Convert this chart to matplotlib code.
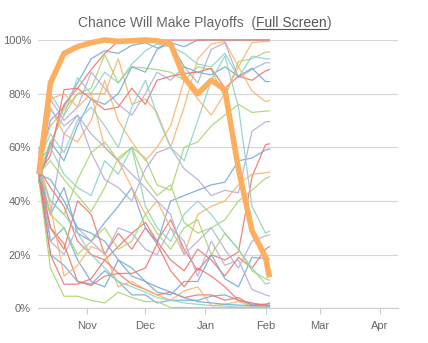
import matplotlib
matplotlib.use("Agg")
import matplotlib.pyplot as plt
import matplotlib.dates as mdates
from matplotlib.lines import Line2D
from datetime import datetime

plt.rcParams['font.family'] = ['Liberation Sans', 'DejaVu Sans']

# weekly snapshot dates
dates = ["2013-10-07", "2013-10-13", "2013-10-20", "2013-10-27", "2013-11-03",
         "2013-11-10", "2013-11-17", "2013-11-24", "2013-12-01", "2013-12-07",
         "2013-12-14", "2013-12-21", "2013-12-28", "2014-01-04", "2014-01-11",
         "2014-01-18", "2014-01-25", "2014-02-01", "2014-02-03"]

# highlighted team (%)
highlight = [50, 84, 95, 97.5, 99, 100, 99.5, 99.7, 100, 99.7, 98.5, 86, 80, 85,
             81.5, 52, 29, 19, 11.5]

# the rest of the league (%)
others = [
    [52, 70, 75, 84, 93, 96, 95, 98, 99, 97, 99, 97.5, 100, 100, 100, 100, 100, 100, 100],
    [48, 60, 76, 82, 89, 95, 99.5, 100, 100, 100, 100, 100, 100, 100, 100, 100, 100, 100, 100],
    [55, 68, 74, 80, 80, 80, 93, 76, 78, 73, 60, 75, 93, 98.5, 99.5, 90, 99, 99.5, 99.5],
    [50, 62, 72, 80, 82, 94.5, 84, 90, 89.5, 89, 88, 85, 90, 89, 78.5, 92, 93, 95.5, 95.5],
    [55, 80, 72, 86, 80, 88, 84, 91, 96, 98.5, 97.5, 95, 91, 90, 95, 86, 94, 93, 93],
    [52, 78, 70, 75, 88, 82, 76, 72, 80, 88, 85, 90, 84, 96.5, 99, 86, 89, 91.5, 91.5],
    [50, 57, 81.5, 82, 78, 74, 75, 82, 76, 85, 86.5, 87.5, 88, 89.5, 82, 86.5, 85, 88.5, 89],
    [47, 62, 55, 68, 78, 76, 80, 90, 88, 96.5, 99, 90, 88, 87, 90, 86.5, 89.5, 84.5, 84.5],
    [58, 75, 65, 62, 70, 85, 70, 62, 55, 60, 68, 85, 78, 72, 80, 90, 81, 77, 77.5],
    [53, 40, 35, 48, 58, 62, 55, 60, 56, 46, 44, 60, 62, 68, 72, 76, 73, 73.5, 73.6],
    [50, 74, 68, 72, 58, 48, 45, 40, 52, 58, 60, 52, 48, 42, 44, 43, 66, 69.5, 69.6],
    [48, 30, 22, 40, 35, 20, 28, 22, 30, 25, 33, 22, 14, 20, 18, 21, 49, 61, 61.3],
    [52, 35, 45, 28, 25, 32, 38, 45, 30, 24, 40, 42, 44, 46, 47, 55, 56, 59, 59.4],
    [55, 78, 80, 75, 80, 60, 55, 45, 35, 40, 30, 20, 35, 38, 40, 46, 50, 50.5, 50.8],
    [50, 55, 48, 42, 36, 45, 56, 60, 48, 42, 46, 32, 28, 30, 33, 40, 44, 48.5, 49],
    [55, 65, 58, 70, 75, 68, 60, 75, 85, 72, 60, 55, 70, 85, 94, 75, 38, 28, 28.8],
    [48, 35, 65, 72, 65, 60, 55, 50, 45, 40, 35, 20, 25, 30, 22, 15, 25, 27, 27.3],
    [52, 45, 38, 25, 20, 18, 23, 28, 32, 25, 18, 14, 22, 18, 12, 19, 15, 22, 23],
    [50, 25, 30, 18, 10, 8, 18, 12, 10, 6, 5, 10, 10, 20, 11, 8, 19, 18.5, 18.4],
    [50, 35, 30, 20, 25, 30, 22, 25, 35, 28, 22, 30, 33, 20, 28, 22, 14, 11, 10.5],
    [55, 60, 50, 45, 42, 55, 50, 60, 38, 30, 25, 35, 40, 35, 28, 22, 15, 9, 9.5],
    [60, 25, 20, 30, 25, 20, 30, 28, 22, 20, 30, 25, 12, 25, 16, 18, 7, 5, 4.6],
    [50, 20, 16, 10, 9, 14, 10, 5, 5, 2, 3, 3, 3, 4.5, 5, 3, 1.5, 1.5, 1.6],
    [52, 30, 24, 10, 8.5, 12, 13, 9, 7, 5, 6, 4, 5, 5, 3, 4, 1, 1.5, 2],
    [55, 38, 12, 16, 23, 21, 8, 10, 7, 5, 3, 6.5, 8, 1, 1.5, 2.5, 0.8, 0.8, 0.8],
    [48, 15, 4.5, 4.5, 3, 2, 6, 4, 2.5, 2.5, 0.3, 0.3, 0.2, 0.2, 0.2, 0.2, 0.2, 0.2, 0.2],
    [50, 40, 35, 28, 20, 15, 10, 8, 6, 4, 3, 2, 1.5, 1, 0.8, 0.5, 0.5, 0.5, 0.5],
    [50, 20, 9, 9, 11, 18, 13, 13, 15, 24, 14, 8, 15, 12, 8, 3, 2, 1, 1],
    [50, 48, 40, 30, 28, 25, 18, 15, 10, 8, 6, 4, 2.5, 2, 1.5, 1.2, 1, 1, 1],
]

month_ticks = ["2013-11-01", "2013-12-01", "2014-01-01", "2014-02-01", "2014-03-01", "2014-04-01"]
month_labels = ["Nov", "Dec", "Jan", "Feb", "Mar", "Apr"]

blue, red, orange, green, teal, purple = "#78aad6", "#f2766d", "#fdb26a", "#a9d672", "#8ed3c5", "#b5aed9"
line_colors = [blue, red, orange, green, teal, purple, red, blue, orange, green,
               purple, red, blue, orange, green, teal, purple, red, blue, green,
               teal, purple, blue, red, orange, green, teal, red, blue]

x = [datetime.strptime(d, "%Y-%m-%d") for d in dates]

fig = plt.figure(figsize=(4.28, 3.43), dpi=100)
ax = fig.add_axes([38 / 428, 1 - 308.3 / 343, 360 / 428, 268.3 / 343])

for vals, c in zip(others, line_colors):
    ax.plot(x, vals, color=c, lw=0.9, alpha=0.9, clip_on=False, zorder=2)
ax.plot(x, highlight, color="#fdae5f", lw=4.0, solid_capstyle="butt",
        solid_joinstyle="round", clip_on=False, zorder=3)

ax.set_ylim(0, 100)
ax.set_xlim(datetime(2013, 10, 6, 14), datetime(2014, 4, 10, 8))
ax.set_yticks([0, 20, 40, 60, 80, 100])
ax.set_yticklabels(["0%", "20%", "40%", "60%", "80%", "100%"])
ax.set_xticks([datetime.strptime(d, "%Y-%m-%d") for d in month_ticks])
ax.set_xticklabels(month_labels)

ax.grid(axis="y", color="#d6d6d6", lw=0.8)
ax.set_axisbelow(True)
for s in ["top", "right", "left"]:
    ax.spines[s].set_visible(False)
ax.spines["bottom"].set_color("#cccccc")
ax.spines["bottom"].set_linewidth(0.8)
ax.tick_params(axis="y", length=0, pad=5, labelsize=8, labelcolor="#666666")
ax.tick_params(axis="x", length=4.5, width=0.8, color="#cccccc", pad=5,
               labelsize=8, labelcolor="#666666")

# title with underlined link part
title_parts = ["Chance Will Make Playoffs  (", "Full Screen", ")"]
renderer = fig.canvas.get_renderer()
texts = []
for p in title_parts:
    t = fig.text(0, 0, p, fontsize=10, color="#666666")
    texts.append(t)
widths = [t.get_window_extent(renderer).width for t in texts]
total = sum(widths)
x0 = 204.5 - total / 2
base = 343 - 27
for t, w in zip(texts, widths):
    t.set_position((x0 / 428, base / 343))
    t.set_va("baseline")
    x0 += w
link_l = 204.5 - total / 2 + widths[0]
link_r = link_l + widths[1]
texts[1].set_color("#555555")
fig.add_artist(Line2D([link_l / 428, link_r / 428], [(base - 2) / 343] * 2,
                      color="#555555", lw=0.8, transform=fig.transFigure))

fig.savefig("out.png", dpi=100)
